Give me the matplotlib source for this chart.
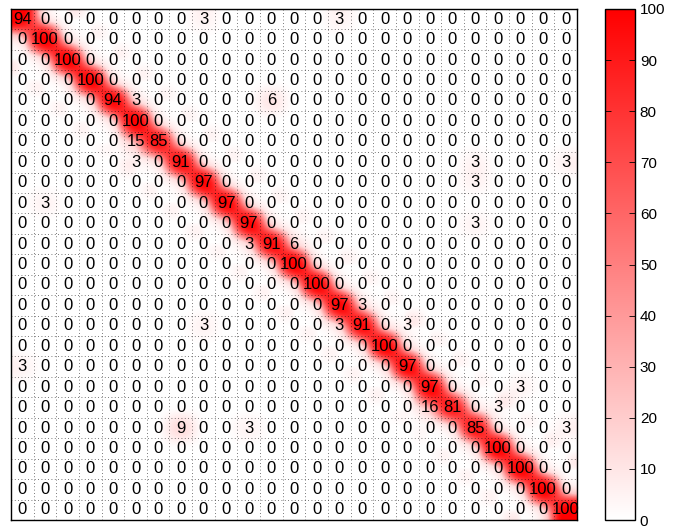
import numpy as np
import matplotlib
matplotlib.use("Agg")
import matplotlib.pyplot as plt
from matplotlib.colors import LinearSegmentedColormap

n = 25
diag = [94, 100, 100, 100, 94, 100, 85, 91, 97, 97, 97, 91, 100, 100, 97, 91,
        100, 97, 97, 81, 85, 100, 100, 100, 100]
# off-diagonal entries: (row, col, value)
off_rows = [0, 0, 4, 4, 6, 7, 7, 7, 8, 9, 10, 11, 11, 14, 15, 15, 15, 17, 18, 19, 19, 20, 20, 20]
off_cols = [8, 14, 5, 11, 5, 5, 20, 24, 20, 1, 20, 10, 12, 15, 8, 14, 17, 0, 22, 18, 21, 7, 10, 24]
off_vals = [3, 3, 3, 6, 15, 3, 3, 3, 3, 3, 3, 3, 6, 3, 3, 3, 3, 3, 3, 16, 3, 9, 3, 3]

M = np.zeros((n, n), dtype=int)
for i, v in enumerate(diag):
    M[i, i] = v
for r, c, v in zip(off_rows, off_cols, off_vals):
    M[r, c] = v

cmap = LinearSegmentedColormap.from_list("wr", [(1, 1, 1), (1, 0, 0)])
cmap_alpha = LinearSegmentedColormap.from_list("ra", [(1, 0, 0, 0), (1, 0, 0, 1)])

fig = plt.figure(figsize=(6.74, 5.29), dpi=100)
ax = fig.add_axes([11 / 674, 9 / 529, 566 / 674, 511 / 529])
ext = (-0.5, n - 0.5, n - 0.5, -0.5)
im = ax.imshow(M, cmap=cmap, vmin=0, vmax=100, interpolation="gaussian",
               aspect="auto", extent=ext)
ax.imshow(M, cmap=cmap_alpha, vmin=0, vmax=100, interpolation="spline36",
          aspect="auto", extent=ext)
for r in range(n):
    for c in range(n):
        ax.text(c, r, str(M[r, c]), ha="center", va="center", fontsize=12,
                family="Liberation Sans", color="black")

ax.set_xticks(np.arange(-0.5, n, 1), minor=True)
ax.set_yticks(np.arange(-0.5, n, 1), minor=True)
ax.set_xticks([])
ax.set_yticks([])
ax.grid(which="minor", color="black", linestyle=(0, (1, 3)), linewidth=0.6, alpha=0.7)
ax.tick_params(which="minor", length=0)
ax.set_xlim(-0.5, n - 0.5)
ax.set_ylim(n - 0.5, -0.5)
for s in ax.spines.values():
    s.set_linewidth(1.0)

cax = fig.add_axes([605 / 674, 9 / 529, 30 / 674, 511 / 529])
cb = fig.colorbar(im, cax=cax, ticks=np.arange(0, 101, 10))
cb.outline.set_linewidth(1.0)
cax.tick_params(direction="in", length=4, width=0.6, labelsize=11, left=True, right=True)
for lab in cax.get_yticklabels():
    lab.set_family("Liberation Sans")

fig.savefig("out.png", dpi=100)
